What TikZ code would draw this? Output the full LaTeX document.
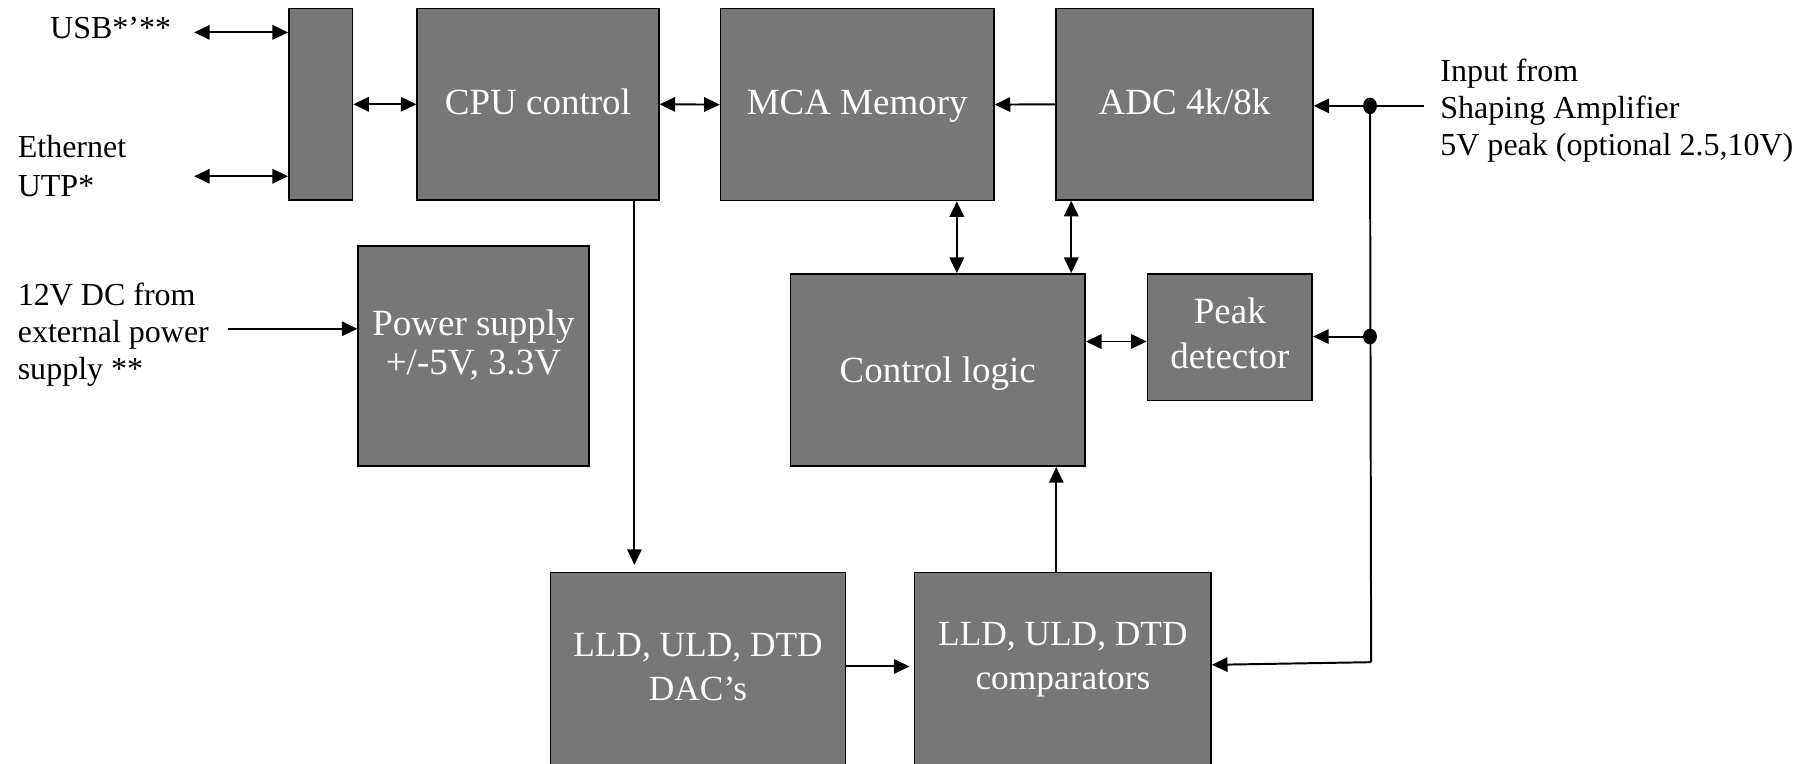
\documentclass[tikz,border=0pt]{standalone}
\usepackage{fontspec}
\setmainfont{Liberation Serif}
\usetikzlibrary{arrows.meta,calc}
\definecolor{boxgray}{RGB}{119,119,119}
\newcommand\tstr[1]{\rule{0pt}{#1}}
\newcommand\bstr[1]{\rule[-#1]{0pt}{#1}}
\begin{document}
\begin{tikzpicture}[x=0.5pt,y=-0.5pt]
\tikzset{
  tri/.tip={Triangle[length=6.75pt,width=6.25pt]},
  ln/.style={line width=0.85pt},
  arr/.style={ln,-tri},
  biarr/.style={ln,tri-tri},
  blk/.style={draw=black,line width=0.7pt,fill=boxgray,text=white,inner sep=0pt,align=center},
  sz/.style 2 args={minimum width=#1*0.5pt,minimum height=#2*0.5pt},
  bf/.style={font=\fontsize{16pt}{#1}\selectfont},
  sf/.style={font=\fontsize{15.3pt}{#1}\selectfont},
  lbl/.style={inner sep=0pt,align=left,anchor=north west,font=\fontsize{13.85pt}{#1}\selectfont},
  lbl/.default=16pt
}
\path[use as bounding box,fill=white] (0,0) rectangle (1568,661);

% blocks
\node[blk,sz={55}{165.5}] (ifc) at (277.5,90.25) {};
\node[blk,sz={209}{165.5},bf=19pt] (cpu) at (465.5,90.25) {\tstr{15pt}CPU control\bstr{6.25pt}};
\node[blk,sz={236.5}{166},bf=19pt] (mca) at (741.75,90.5) {\tstr{15pt}MCA Memory\bstr{6.5pt}};
\node[blk,sz={222}{165.5},bf=19pt] (adc) at (1025,90.25) {\tstr{15pt}ADC 4k/8k\bstr{5.85pt}};
\node[blk,sz={199.5}{190.5},bf=17pt] (ps) at (409.75,308.25) {\tstr{15pt}Power supply\\+/-5V, 3.3V\bstr{15.85pt}};
\node[blk,sz={255}{166.5},bf=19pt] (cl) at (811.5,320.25) {\tstr{15pt}Control logic\bstr{4.25pt}};
\node[blk,sz={142.5}{109.5},bf=19.15pt] (pd) at (1064.25,291.75) {\tstr{15pt}Peak\\detector\bstr{7.3pt}};
\node[blk,sz={255}{167},sf=19pt] (dac) at (604,579) {\tstr{15pt}LLD, ULD, DTD\\DAC’s\bstr{7pt}};
\node[blk,sz={256.5}{167},sf=18.75pt] (cmp) at (919.75,579) {\tstr{15pt}LLD, ULD, DTD\\comparators\bstr{16.45pt}};

% labels
\node[lbl] (usb) at (43,9) {\tstr{12pt}USB*’**};
\node[lbl=17pt] (eth) at (15,112) {\tstr{12pt}Ethernet\\UTP*};
\node[lbl] (dc) at (15,240) {\tstr{12pt}12V DC from\\external power\\supply **};
\node[lbl] (inp) at (1246,46) {\tstr{12pt}Input from\\Shaping Amplifier\\5V peak (optional 2.5,10V)};

% helper coordinates
\coordinate (usbL) at (168,28);
\coordinate (ethL) at (168,152.5);
\coordinate (dcL) at (197,284.5);
\coordinate (inR) at (1232,91.6);
\coordinate (j1) at (1185.5,91.6);
\coordinate (j2) at (1185.5,291.2);
\coordinate (j3) at (1186.5,573);
\coordinate (xcpu) at (549,0);
\coordinate (xmc) at (828,0);
\coordinate (xac) at (927,0);
\coordinate (xcc) at (914,0);
\coordinate (yclpd) at (0,295.5);

% connectors
\draw[biarr] (usbL) -- (ifc.west |- usbL);
\draw[biarr] (ethL) -- (ifc.west |- ethL);
\draw[biarr] (ifc.east) -- (cpu.west);
\draw[biarr] (cpu.east) -- (mca.west);
\draw[arr] (adc.west) -- (mca.east);
\draw[arr] (inR) -- (adc.east |- inR);
\draw[ln] (j1) -- (j3);
\draw[arr] (j2) -- (pd.east |- j2);
\draw[arr] (j3) -- ([yshift=1.85pt]cmp.east);
\draw[arr] (cpu.south -| xcpu) -- ($(dac.north -| xcpu)+(0,-6)$);
\draw[arr] ([yshift=1.15pt]dac.east) -- ([xshift=-1.9pt,yshift=1.15pt]cmp.west);
\draw[arr] (cmp.north -| xcc) -- (cl.south -| xcc);
\draw[biarr] (mca.south -| xmc) -- (cl.north -| xmc);
\draw[biarr] (adc.south -| xac) -- (cl.north -| xac);
\draw[biarr] (cl.east |- yclpd) -- (pd.west |- yclpd);
\draw[arr] (dcL) -- (ps.west |- dcL);
\fill (j1) ellipse [x radius=3pt, y radius=3.6pt];
\fill (j2) ellipse [x radius=3pt, y radius=3.4pt];
\end{tikzpicture}
\end{document}
